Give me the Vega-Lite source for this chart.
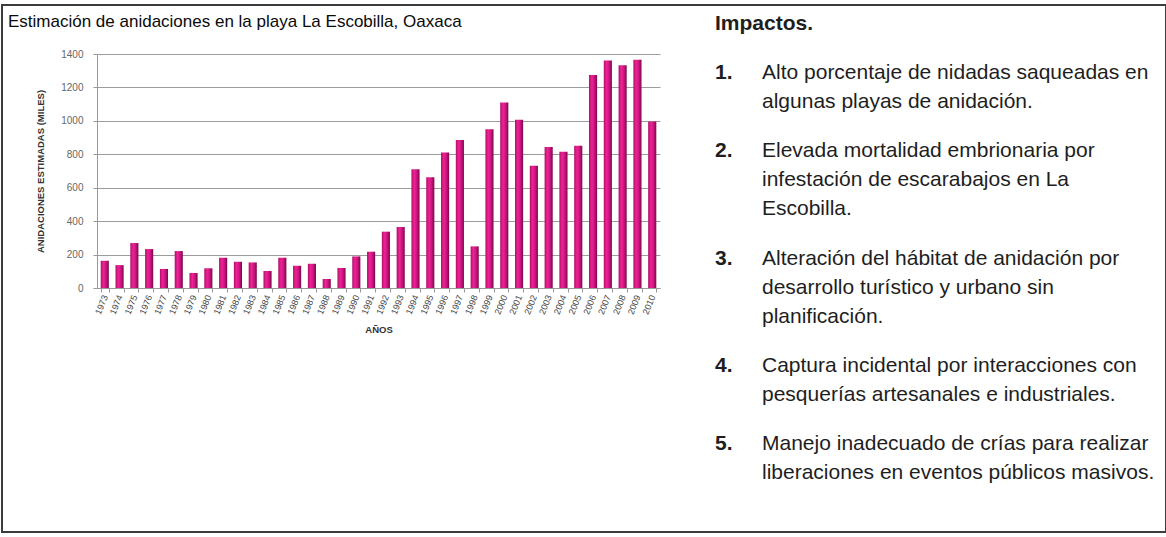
{
  "$schema": "https://vega.github.io/schema/vega-lite/v6.json",
  "width": 1164,
  "height": 527,
  "autosize": {"type": "none"},
  "padding": {"left": 2, "top": 5, "right": 0, "bottom": 5},
  "background": "white",
  "config": {
    "view": {"stroke": "#3c3c3c", "strokeWidth": 2},
    "font": "Liberation Sans"
  },
  "title": {
    "text": "Estimación de anidaciones en la playa La Escobilla, Oaxaca",
    "anchor": "start",
    "frame": "group",
    "orient": "top",
    "offset": 0,
    "baseline": "top",
    "dx": 6,
    "dy": 26,
    "font": "Liberation Sans",
    "fontSize": 17,
    "fontWeight": "normal",
    "color": "#0a0a0a"
  },
  "datasets": {
    "nidos": [
      {"anio": "1973", "miles": 163}, {"anio": "1974", "miles": 137},
      {"anio": "1975", "miles": 269}, {"anio": "1976", "miles": 233},
      {"anio": "1977", "miles": 114}, {"anio": "1978", "miles": 221},
      {"anio": "1979", "miles": 90}, {"anio": "1980", "miles": 118},
      {"anio": "1981", "miles": 181}, {"anio": "1982", "miles": 157},
      {"anio": "1983", "miles": 153}, {"anio": "1984", "miles": 102},
      {"anio": "1985", "miles": 181}, {"anio": "1986", "miles": 133},
      {"anio": "1987", "miles": 145}, {"anio": "1988", "miles": 54},
      {"anio": "1989", "miles": 120}, {"anio": "1990", "miles": 189},
      {"anio": "1991", "miles": 217}, {"anio": "1992", "miles": 337},
      {"anio": "1993", "miles": 365}, {"anio": "1994", "miles": 711},
      {"anio": "1995", "miles": 663}, {"anio": "1996", "miles": 811},
      {"anio": "1997", "miles": 886}, {"anio": "1998", "miles": 249},
      {"anio": "1999", "miles": 950}, {"anio": "2000", "miles": 1110},
      {"anio": "2001", "miles": 1006}, {"anio": "2002", "miles": 731},
      {"anio": "2003", "miles": 843}, {"anio": "2004", "miles": 815},
      {"anio": "2005", "miles": 851}, {"anio": "2006", "miles": 1275},
      {"anio": "2007", "miles": 1361}, {"anio": "2008", "miles": 1333},
      {"anio": "2009", "miles": 1365}, {"anio": "2010", "miles": 996}
    ],
    "impactos": [
      {"ln": 0, "par": 0, "col": "num", "kind": "b", "txt": "Impactos."},
      {"ln": 1, "par": 1, "col": "num", "kind": "b", "txt": "1."},
      {"ln": 1, "par": 1, "col": "text", "kind": "r", "txt": "Alto porcentaje de nidadas saqueadas en"},
      {"ln": 2, "par": 1, "col": "text", "kind": "r", "txt": "algunas playas de anidación."},
      {"ln": 3, "par": 2, "col": "num", "kind": "b", "txt": "2."},
      {"ln": 3, "par": 2, "col": "text", "kind": "r", "txt": "Elevada mortalidad embrionaria por"},
      {"ln": 4, "par": 2, "col": "text", "kind": "r", "txt": "infestación de escarabajos en La"},
      {"ln": 5, "par": 2, "col": "text", "kind": "r", "txt": "Escobilla."},
      {"ln": 6, "par": 3, "col": "num", "kind": "b", "txt": "3."},
      {"ln": 6, "par": 3, "col": "text", "kind": "r", "txt": "Alteración del hábitat de anidación por"},
      {"ln": 7, "par": 3, "col": "text", "kind": "r", "txt": "desarrollo turístico y urbano sin"},
      {"ln": 8, "par": 3, "col": "text", "kind": "r", "txt": "planificación."},
      {"ln": 9, "par": 4, "col": "num", "kind": "b", "txt": "4."},
      {"ln": 9, "par": 4, "col": "text", "kind": "r", "txt": "Captura incidental por interacciones con"},
      {"ln": 10, "par": 4, "col": "text", "kind": "r", "txt": "pesquerías artesanales e industriales."},
      {"ln": 11, "par": 5, "col": "num", "kind": "b", "txt": "5."},
      {"ln": 11, "par": 5, "col": "text", "kind": "r", "txt": "Manejo inadecuado de crías para realizar"},
      {"ln": 12, "par": 5, "col": "text", "kind": "r", "txt": "liberaciones en eventos públicos masivos."}
    ]
  },
  "layer": [
    {
      "data": {"name": "nidos"},
      "mark": {
        "type": "bar",
        "color": {
          "gradient": "linear",
          "x1": 0, "y1": 0, "x2": 1, "y2": 0,
          "stops": [
            {"offset": 0, "color": "#b0106a"},
            {"offset": 0.35, "color": "#ee2296"},
            {"offset": 0.65, "color": "#cf1480"},
            {"offset": 1, "color": "#780a4a"}
          ]
        }
      },
      "encoding": {
        "x": {
          "field": "anio",
          "type": "ordinal",
          "scale": {"range": [95, 658], "paddingInner": 0.45, "paddingOuter": 0.25},
          "axis": {
            "orient": "bottom",
            "offset": -244,
            "labelAngle": -68,
            "labelFontSize": 9,
            "labelColor": "#444",
            "labelPadding": 3,
            "tickSize": 4,
            "tickColor": "#999",
            "tickBand": "extent",
            "domainColor": "#999",
            "title": "AÑOS",
            "titleFontSize": 9.5,
            "titleFontWeight": "bold",
            "titleColor": "#333",
            "titlePadding": 9
          }
        },
        "y": {
          "field": "miles",
          "type": "quantitative",
          "scale": {"domain": [0, 1400], "range": [283, 49], "nice": false, "zero": true},
          "axis": {
            "orient": "left",
            "offset": -95,
            "values": [0, 200, 400, 600, 800, 1000, 1200, 1400],
            "format": "d",
            "grid": true,
            "gridColor": "#9c9c9c",
            "gridWidth": 1,
            "labelFontSize": 10,
            "labelColor": "#666",
            "labelPadding": 10,
            "tickSize": 4,
            "tickColor": "#999",
            "domainColor": "#999",
            "title": "ANIDACIONES ESTIMADAS (MILES)",
            "titleFontSize": 9.5,
            "titleFontWeight": "bold",
            "titleColor": "#333",
            "titlePadding": 15
          }
        }
      }
    },
    {
      "data": {"name": "impactos"},
      "encoding": {
        "x": {
          "field": "col",
          "type": "nominal",
          "scale": {"type": "point", "domain": ["num", "text"], "range": [713, 760], "padding": 0},
          "axis": null
        },
        "y": {
          "field": "ln",
          "type": "ordinal",
          "scale": {"type": "point", "range": [19, 367], "padding": 0},
          "axis": null
        },
        "yOffset": {
          "field": "par",
          "type": "quantitative",
          "scale": {"domain": [0, 5], "range": [0, 101]}
        },
        "text": {"field": "txt"}
      },
      "layer": [
        {
          "transform": [{"filter": "datum.kind === 'b'"}],
          "mark": {"type": "text", "align": "left", "baseline": "middle", "fontSize": 21, "fontWeight": "bold", "color": "#1e1e1e"}
        },
        {
          "transform": [{"filter": "datum.kind === 'r'"}],
          "mark": {"type": "text", "align": "left", "baseline": "middle", "fontSize": 21, "color": "#1e1e1e"}
        }
      ]
    }
  ],
  "resolve": {"scale": {"x": "independent", "y": "independent"}}
}
